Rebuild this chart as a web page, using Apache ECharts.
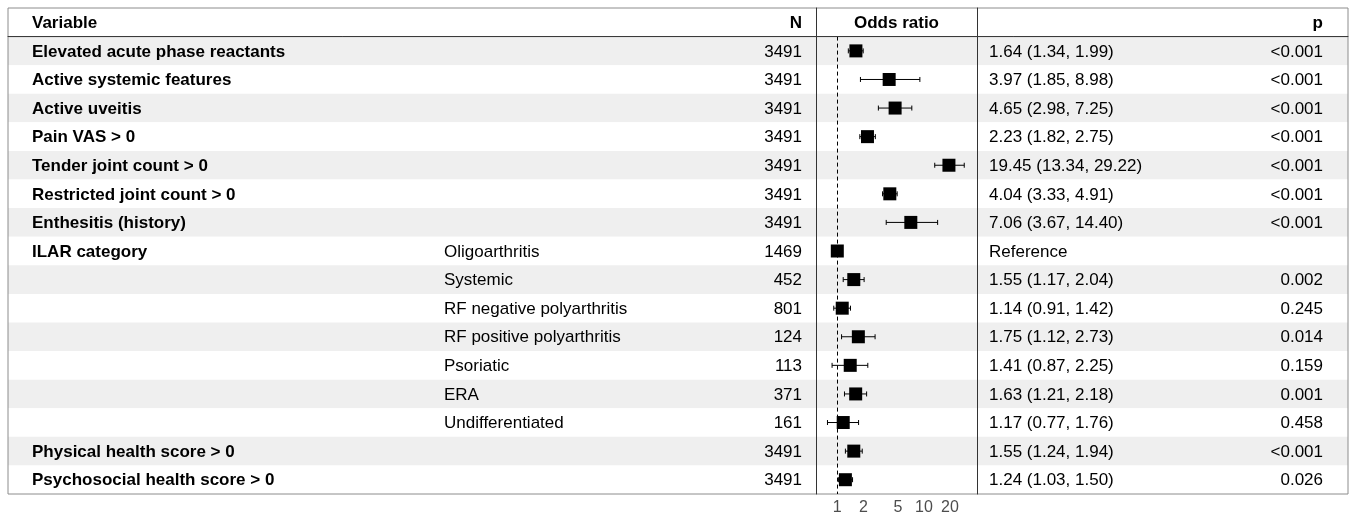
<!DOCTYPE html>
<html>
<head>
<meta charset="utf-8">
<title>Odds ratio forest plot</title>
<script src="https://cdn.jsdelivr.net/npm/echarts@6/dist/echarts.min.js"></script>
<style>
  html, body { margin: 0; padding: 0; background: #fff; }
  #chart { width: 1352px; height: 517px; }
</style>
</head>
<body>
<div id="chart"></div>
<script>
// table data
const headers = ['Variable', 'N', 'Odds ratio', 'p'];
const variables = [
  'Elevated acute phase reactants', 'Active systemic features', 'Active uveitis', 'Pain VAS > 0',
  'Tender joint count > 0', 'Restricted joint count > 0', 'Enthesitis (history)', 'ILAR category',
  '', '', '', '', '', '', 'Physical health score > 0', 'Psychosocial health score > 0'
];
const subgroups = [
  '', '', '', '', '', '', '', 'Oligoarthritis', 'Systemic', 'RF negative polyarthritis',
  'RF positive polyarthritis', 'Psoriatic', 'ERA', 'Undifferentiated', '', ''
];
const nValues = [3491, 3491, 3491, 3491, 3491, 3491, 3491, 1469, 452, 801, 124, 113, 371, 161, 3491, 3491];
const estimates = [1.64, 3.97, 4.65, 2.23, 19.45, 4.04, 7.06, 1, 1.55, 1.14, 1.75, 1.41, 1.63, 1.17, 1.55, 1.24];
const lowerCI = [1.34, 1.85, 2.98, 1.82, 13.34, 3.33, 3.67, null, 1.17, 0.91, 1.12, 0.87, 1.21, 0.77, 1.24, 1.03];
const upperCI = [1.99, 8.98, 7.25, 2.75, 29.22, 4.91, 14.40, null, 2.04, 1.42, 2.73, 2.25, 2.18, 1.76, 1.94, 1.50];
const pValues = ['<0.001', '<0.001', '<0.001', '<0.001', '<0.001', '<0.001', '<0.001', '',
  '0.002', '0.245', '0.014', '0.159', '0.001', '0.458', '<0.001', '0.026'];
const orTicks = [1, 2, 5, 10, 20];

// layout (px)
const TOP = 8, BOTTOM = 494, LEFT = 8, WIDTH = 1340;
const ROW_H = (BOTTOM - TOP) / 17;
const FOREST_L = 816, FOREST_W = 161;
const colX = { variable: 24, sub: 436, n: 794, est: 981, p: 1315, or: 888.5 };

const FONT = '"Liberation Sans", Arial, sans-serif';
const rowIdx = variables.map((v, i) => i);

function estText(i) {
  if (lowerCI[i] == null) return 'Reference';
  return estimates[i].toFixed(2) + ' (' + lowerCI[i].toFixed(2) + ', ' + upperCI[i].toFixed(2) + ')';
}

// cells for the text series
const headCells = [
  { x: colX.variable, row: 0, text: headers[0], align: 'left', bold: true },
  { x: colX.n, row: 0, text: headers[1], align: 'right', bold: true },
  { x: colX.or, row: 0, text: headers[2], align: 'center', bold: true },
  { x: colX.p, row: 0, text: headers[3], align: 'right', bold: true }
];
const bodyCells = [];
rowIdx.forEach(i => {
  bodyCells.push({ x: colX.variable, row: i, text: variables[i], align: 'left', bold: true });
  bodyCells.push({ x: colX.sub, row: i, text: subgroups[i], align: 'left', bold: false });
  bodyCells.push({ x: colX.n, row: i, text: String(nValues[i]), align: 'right', bold: false });
  bodyCells.push({ x: colX.est, row: i, text: estText(i), align: 'left', bold: false });
  bodyCells.push({ x: colX.p, row: i, text: pValues[i], align: 'right', bold: false });
});

function textRenderer(cells) {
  return function (params, api) {
    const c = cells[params.dataIndex];
    const pt = api.coord([c.x, c.row]);
    return {
      type: 'text',
      x: pt[0],
      y: pt[1] + 1,
      style: {
        text: c.text,
        align: c.align,
        verticalAlign: 'middle',
        font: (c.bold ? 'bold ' : '') + '17px ' + FONT,
        fill: '#000'
      }
    };
  };
}

const ciData = rowIdx.filter(i => lowerCI[i] != null)
  .map(i => [Math.log10(lowerCI[i]), Math.log10(upperCI[i]), i]);
const pointData = rowIdx.map(i => [Math.log10(estimates[i]), i]);

// x range of the forest panel in log10 units
const OR_MIN = -0.246, OR_MAX = 1.613;

const chart = echarts.init(document.getElementById('chart'));

const option = {
  animation: false,
  grid: [
    // header
    { left: LEFT, top: TOP, width: WIDTH, height: ROW_H, show: true, borderColor: '#8c8c8c', z: 3 },
    // body
    { left: LEFT, top: TOP + ROW_H, width: WIDTH, height: ROW_H * 16, show: true, borderColor: '#8c8c8c', z: 3 },
    // forest separators
    { left: FOREST_L, top: TOP, width: FOREST_W, height: BOTTOM - TOP },
    // forest plot
    { left: FOREST_L, top: TOP + ROW_H, width: FOREST_W, height: ROW_H * 16 }
  ],
  xAxis: [
    { gridIndex: 0, type: 'value', min: 0, max: WIDTH, show: false },
    {
      gridIndex: 1, type: 'value', min: 0, max: WIDTH, position: 'top', z: 6,
      axisLine: { show: true, lineStyle: { color: '#3a3a3a', width: 1 } },
      axisTick: { show: false }, axisLabel: { show: false }, splitLine: { show: false }
    },
    { gridIndex: 2, type: 'value', min: 0, max: 1, show: false },
    {
      gridIndex: 3, type: 'value', min: OR_MIN, max: OR_MAX,
      axisLine: { show: false },
      axisTick: { show: false },
      splitLine: { show: false },
      axisLabel: {
        customValues: orTicks.map(v => Math.log10(v)),
        formatter: v => String(Math.round(Math.pow(10, v))),
        color: '#4d4d4d',
        fontSize: 16,
        fontFamily: FONT,
        margin: 6
      }
    }
  ],
  yAxis: [
    { gridIndex: 0, type: 'category', data: ['header'], show: false },
    {
      gridIndex: 1, type: 'category', data: variables.map((v, i) => 'r' + i), inverse: true,
      axisLine: { show: false }, axisTick: { show: false }, axisLabel: { show: false, interval: 0 },
      splitLine: { show: false },
      splitArea: { show: true, interval: 0, areaStyle: { color: ['#efefef', '#ffffff'] } }
    },
    {
      gridIndex: 2, type: 'value', min: 0, max: 1, position: 'left', z: 6,
      axisLine: { show: true, lineStyle: { color: '#333' } },
      axisTick: { show: false }, axisLabel: { show: false }, splitLine: { show: false }
    },
    {
      gridIndex: 3, type: 'category', data: variables.map((v, i) => 'r' + i), inverse: true, show: false
    },
    {
      gridIndex: 2, type: 'value', min: 0, max: 1, position: 'right', z: 6,
      axisLine: { show: true, lineStyle: { color: '#333' } },
      axisTick: { show: false }, axisLabel: { show: false }, splitLine: { show: false }
    }
  ],
  series: [
    {
      type: 'custom', xAxisIndex: 0, yAxisIndex: 0, z: 5,
      data: headCells.map(c => [c.x, c.row]),
      renderItem: textRenderer(headCells)
    },
    {
      type: 'custom', xAxisIndex: 1, yAxisIndex: 1, z: 5,
      data: bodyCells.map(c => [c.x, c.row]),
      renderItem: textRenderer(bodyCells)
    },
    {
      // confidence intervals
      type: 'custom', xAxisIndex: 3, yAxisIndex: 3, z: 7,
      encode: { x: [0, 1], y: 2 },
      data: ciData,
      renderItem: function (params, api) {
        const a = api.coord([api.value(0), api.value(2)]);
        const b = api.coord([api.value(1), api.value(2)]);
        const h = 2.5;
        const st = { stroke: '#000', lineWidth: 1 };
        return {
          type: 'group',
          children: [
            { type: 'line', shape: { x1: a[0], y1: a[1], x2: b[0], y2: b[1] }, style: st },
            { type: 'line', shape: { x1: a[0], y1: a[1] - h, x2: a[0], y2: a[1] + h }, style: st },
            { type: 'line', shape: { x1: b[0], y1: b[1] - h, x2: b[0], y2: b[1] + h }, style: st }
          ]
        };
      }
    },
    {
      // point estimates
      type: 'scatter', xAxisIndex: 3, yAxisIndex: 3, z: 8,
      symbol: 'rect', symbolSize: 13,
      itemStyle: { color: '#000', opacity: 1 },
      data: pointData,
      markLine: {
        silent: true,
        symbol: ['none', 'none'],
        label: { show: false },
        lineStyle: { type: [4, 3], color: '#000', width: 1 },
        data: [{ xAxis: 0 }]
      }
    }
  ]
};

chart.setOption(option);
</script>
</body>
</html>
